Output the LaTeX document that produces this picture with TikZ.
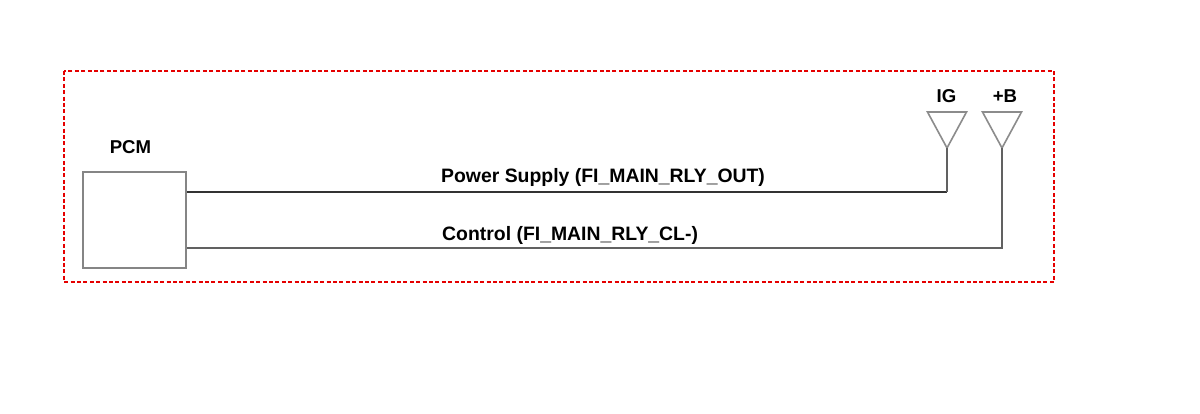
\documentclass[tikz,border=0pt]{standalone}
\usepackage{fontspec}
\setmainfont{Liberation Sans}
\begin{document}
\begin{tikzpicture}[x=1pt,y=-1pt,
  lbl/.style={inner sep=0pt,anchor=base,font=\fontsize{18.6}{22}\selectfont\bfseries},
  wirelbl/.style={lbl,anchor=base west,font=\fontsize{19.4}{23}\selectfont\bfseries},
  frame/.style={draw=red!90!black,line width=1.2pt,dash pattern=on 4pt off 2.4pt},
  box/.style={draw=black!48,line width=2pt,minimum width=103pt,minimum height=96pt,inner sep=0pt},
  tri/.style={draw=black!45,line width=1.6pt,line join=miter},
  wireA/.style={draw=black!80,line width=2pt},
  wireB/.style={draw=black!62,line width=2pt}]
\useasboundingbox (0,0) rectangle (1200,414);
\fill[white] (0,0) rectangle (1200,414);
\draw[frame] (64,71) rectangle (1054,282);
\node[box] (pcm) at (134.5,220) {};
\node[lbl] (pcmlbl) at (130.5,154) {PCM};
% antennas
\coordinate (igtip) at (947,148);
\coordinate (igbend) at (947,192);
\coordinate (btip) at (1002,148);
\coordinate (bbend) at (1002,248);
\draw[tri] (927.5,112) -- (966.5,112) -- (igtip) -- cycle;
\draw[tri] (982.5,112) -- (1021.5,112) -- (btip) -- cycle;
\node[lbl] (iglbl) at (946.5,102.5) {IG};
\node[lbl] (blbl) at (1005,102.5) {+B};
% wires
\draw[wireA] (pcm.east |- igbend) -- (igbend);
\draw[wireB] (igbend) -- (igtip);
\draw[wireB] (pcm.east |- bbend) -- (bbend) -- (btip);
\node[wirelbl] (pslbl) at (441,183) {Power Supply (FI\_MAIN\_RLY\_OUT)};
\node[wirelbl] (ctlbl) at (442,241) {Control (FI\_MAIN\_RLY\_CL-)};
\end{tikzpicture}
\end{document}
